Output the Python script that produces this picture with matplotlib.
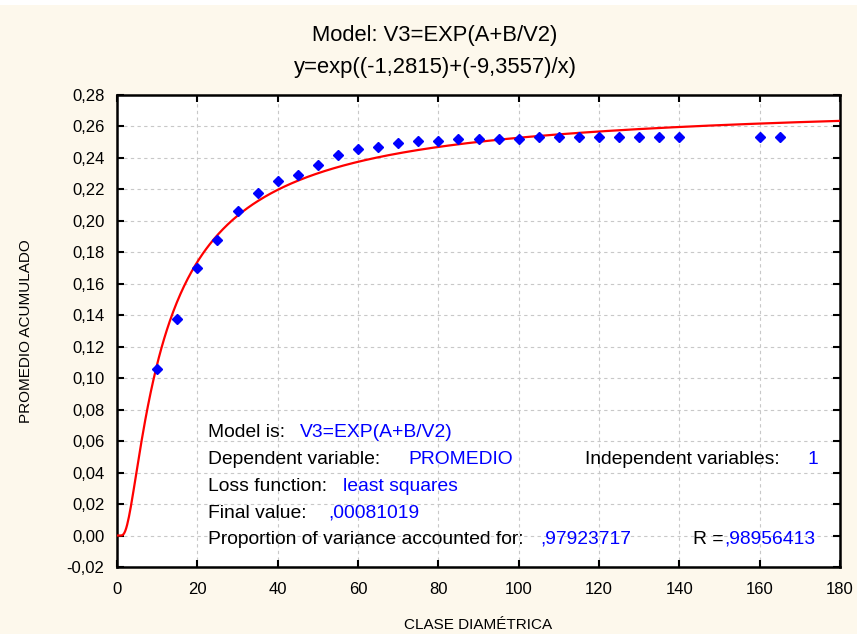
import numpy as np
import matplotlib
matplotlib.use("Agg")
import matplotlib.pyplot as plt
from matplotlib.patches import Rectangle

plt.rcParams['font.family'] = ['Liberation Sans', 'DejaVu Sans']

# observed data (clase diametrica vs promedio acumulado)
clase = [10, 15, 20, 25, 30, 35, 40, 45, 50, 55, 60, 65, 70, 75, 80, 85, 90,
         95, 100, 105, 110, 115, 120, 125, 130, 135, 140, 160, 165]
promedio = [0.1057, 0.1374, 0.1702, 0.1878, 0.2063, 0.2175, 0.2253, 0.2290,
            0.2353, 0.2417, 0.2457, 0.2468, 0.2495, 0.2508, 0.2508, 0.2520,
            0.2522, 0.2521, 0.2521, 0.2531, 0.2531, 0.2531, 0.2531, 0.2531,
            0.2531, 0.2531, 0.2531, 0.2531, 0.2531]

# fitted model parameters
A = -1.2815
B = -9.3557

xticks = list(range(0, 181, 20))
yticks = [round(v, 2) for v in np.arange(-0.02, 0.2801, 0.02)]

BG = '#fdf8ec'
BLUE = '#0000ff'

fig = plt.figure(figsize=(8.57, 6.34), dpi=100, facecolor=BG)
fig.patches.append(Rectangle((0, 1 - 5 / 634), 1, 5 / 634, transform=fig.transFigure,
                             facecolor='white', edgecolor='none', zorder=0))
ax = fig.add_axes([117 / 857, 1 - 567 / 634, 723 / 857, 472 / 634])
ax.set_facecolor('white')

# fitted curve
xs = np.linspace(0.05, 180, 800)
ax.plot(xs, np.exp(A + B / xs), color='red', lw=1.6, zorder=3)

# observed points
ax.plot(clase, promedio, linestyle='none', marker='D', ms=4.6,
        color=BLUE, zorder=4)

ax.set_xlim(0, 180)
ax.set_ylim(-0.02, 0.28)
ax.set_xticks(xticks)
ax.set_yticks(yticks)
ax.set_yticklabels([f"{v:.2f}".replace('.', ',') for v in yticks])

ax.grid(True, color='#c8c8c8', linestyle=(0, (3, 3)), lw=0.8)
ax.set_axisbelow(True)
for s in ax.spines.values():
    s.set_linewidth(1.8)
    s.set_color('black')

ax.tick_params(axis='both', direction='in', length=5, width=1.5,
               top=True, right=True, labelsize=12, colors='black')
ax.tick_params(axis='x', pad=11)
ax.tick_params(axis='y', pad=9)

ax.set_xlabel('CLASE DIAMÉTRICA', fontsize=11, labelpad=15)
ax.set_ylabel('PROMEDIO ACUMULADO', fontsize=11, labelpad=24)

tx = 435 / 857
fig.text(tx, 1 - 35 / 634, 'Model: V3=EXP(A+B/V2)', ha='center', va='center', fontsize=15.8)
fig.text(tx, 1 - 68 / 634, 'y=exp((-1,2815)+(-9,3557)/x)', ha='center', va='center', fontsize=15.8)

# model summary box
fs = 13.9
rows = [
    (0.1259, 0.2839, 'Model is:', 'black'),
    (0.2531, 0.2839, 'V3=EXP(A+B/V2)', BLUE),
    (0.1259, 0.2267, 'Dependent variable:', 'black'),
    (0.4025, 0.2267, 'PROMEDIO', BLUE),
    (0.6473, 0.2267, 'Independent variables:', 'black'),
    (0.9557, 0.2267, '1', BLUE),
    (0.1259, 0.1695, 'Loss function:', 'black'),
    (0.3126, 0.1695, 'least squares', BLUE),
    (0.1259, 0.1144, 'Final value:', 'black'),
    (0.2918, 0.1144, ',00081019', BLUE),
    (0.1259, 0.0593, 'Proportion of variance accounted for:', 'black'),
    (0.5851, 0.0593, ',97923717', BLUE),
    (0.7967, 0.0593, 'R =', 'black'),
    (0.8400, 0.0593, ',98956413', BLUE),
]
for x, y, t, c in rows:
    ax.text(x, y, t, transform=ax.transAxes, ha='left', va='center',
            fontsize=fs, color=c, zorder=5)

fig.savefig('out.png', dpi=100, facecolor=BG)
